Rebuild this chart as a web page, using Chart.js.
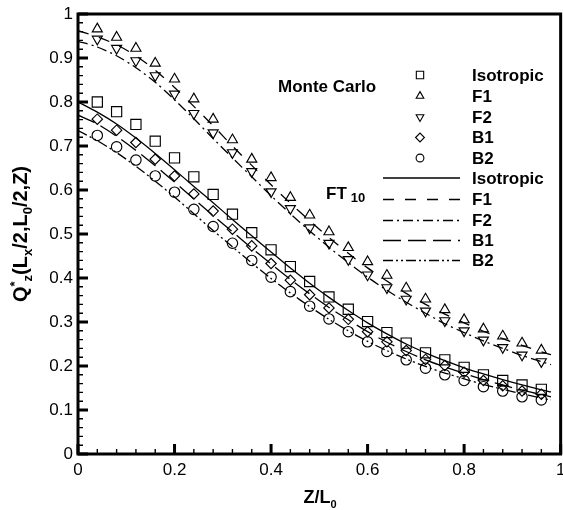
<!DOCTYPE html>
<html><head><meta charset="utf-8">
<script src="https://cdn.jsdelivr.net/npm/chart.js@4/dist/chart.umd.min.js"></script>
<style>
html,body{margin:0;padding:0;overflow:hidden;background:#fff;width:563px;height:510px}
#wrap{position:relative;width:569px;height:510px}
</style>
</head><body><div id="wrap"><canvas id="c" width="569" height="510"></canvas></div>
<script>
const seriesNames = ['Isotropic','F1','F2','B1','B2'];
const zValues = [0.04,0.08,0.12,0.16,0.20,0.24,0.28,0.32,0.36,0.40,0.44,0.48,0.52,0.56,0.60,0.64,0.68,0.72,0.76,0.80,0.84,0.88,0.92,0.96];
const mcIsotropic = [0.800,0.778,0.749,0.711,0.673,0.630,0.590,0.545,0.503,0.464,0.426,0.392,0.357,0.329,0.301,0.276,0.252,0.230,0.214,0.197,0.180,0.167,0.157,0.147];
const mcF1 = [0.966,0.947,0.922,0.888,0.852,0.807,0.761,0.714,0.670,0.628,0.583,0.543,0.505,0.469,0.437,0.406,0.377,0.352,0.328,0.305,0.284,0.268,0.252,0.236];
const mcF2 = [0.943,0.922,0.894,0.860,0.818,0.774,0.730,0.685,0.642,0.596,0.558,0.514,0.479,0.442,0.407,0.378,0.352,0.325,0.303,0.280,0.259,0.242,0.225,0.210];
const mcB1 = [0.761,0.736,0.708,0.670,0.632,0.591,0.552,0.511,0.473,0.433,0.395,0.362,0.332,0.306,0.278,0.255,0.235,0.215,0.201,0.186,0.167,0.155,0.143,0.136];
const mcB2 = [0.724,0.698,0.668,0.632,0.595,0.556,0.517,0.479,0.440,0.402,0.369,0.336,0.307,0.278,0.255,0.233,0.214,0.195,0.180,0.167,0.153,0.143,0.130,0.123];

const ftZ = [0,0.04,0.08,0.12,0.16,0.20,0.24,0.28,0.32,0.36,0.40,0.44,0.48,0.52,0.56,0.60,0.64,0.68,0.72,0.76,0.80,0.84,0.88,0.92,0.96,0.98];
const ftIsotropic = [0.800,0.777,0.750,0.718,0.683,0.646,0.608,0.571,0.533,0.496,0.459,0.423,0.388,0.356,0.326,0.298,0.273,0.250,0.230,0.212,0.196,0.182,0.169,0.157,0.146,0.141];
const ftF1 = [0.962,0.948,0.930,0.905,0.872,0.833,0.790,0.746,0.700,0.656,0.612,0.570,0.530,0.492,0.456,0.423,0.393,0.365,0.340,0.318,0.298,0.279,0.262,0.247,0.232,0.226];
const ftF2 = [0.938,0.925,0.905,0.878,0.845,0.805,0.762,0.717,0.673,0.630,0.587,0.546,0.507,0.470,0.435,0.402,0.372,0.345,0.320,0.296,0.276,0.257,0.240,0.224,0.210,0.203];
const ftB1 = [0.770,0.750,0.722,0.690,0.655,0.618,0.580,0.542,0.505,0.468,0.432,0.397,0.364,0.333,0.305,0.278,0.254,0.233,0.214,0.198,0.183,0.169,0.157,0.145,0.135,0.130];
const ftB2 = [0.735,0.712,0.685,0.654,0.620,0.584,0.546,0.508,0.471,0.434,0.399,0.366,0.335,0.306,0.280,0.256,0.235,0.216,0.199,0.184,0.171,0.158,0.147,0.137,0.127,0.123];

const xTickValues = [0,0.2,0.4,0.6,0.8,1];
const yTickValues = [0,0.1,0.2,0.3,0.4,0.5,0.6,0.7,0.8,0.9,1];

const mcTitle = 'Monte Carlo';
const ftTitle = 'FT';
const ftSub = '10';

const toXY = (xs, ys) => ys.map((v, i) => ({x: xs[i], y: v}));

const markerStyles = [
  {pointStyle:'rect', radius:7.2, rotation:0, legendRadius:5.2},
  {pointStyle:'triangle', radius:5.8, rotation:0, legendRadius:4.4},
  {pointStyle:'triangle', radius:5.8, rotation:180, legendRadius:4.4},
  {pointStyle:'rectRot', radius:5.2, rotation:0, legendRadius:4.4},
  {pointStyle:'circle', radius:5.2, rotation:0, legendRadius:3.9}
];
const dashStyles = [[], [11,11], [10,4,2,4], [18,7], [10,3,2,3,2,3]];

const mcSeries = [mcIsotropic, mcF1, mcF2, mcB1, mcB2];
const ftSeries = [ftIsotropic, ftF1, ftF2, ftB1, ftB2];

const datasets = [];
mcSeries.forEach((s, i) => {
  const m = markerStyles[i];
  datasets.push({
    label: seriesNames[i], group: 'mc', data: toXY(zValues, s),
    showLine: false, pointStyle: m.pointStyle, pointRadius: m.radius, pointRotation: m.rotation,
    pointBorderColor: '#000', pointBackgroundColor: 'rgba(0,0,0,0)', pointBorderWidth: 1.15,
    legendRadius: m.legendRadius
  });
});
ftSeries.forEach((s, i) => {
  datasets.push({
    label: seriesNames[i], group: 'ft', data: toXY(ftZ, s),
    showLine: true, pointRadius: 0, borderColor: '#000', borderWidth: 1.3,
    borderDash: dashStyles[i], tension: 0.3, fill: false
  });
});

const FONT = '"Liberation Sans", Arial, Helvetica, sans-serif';

function drawRich(ctx, parts, x, y, size, subSize) {
  let cx = x;
  for (const p of parts) {
    const sz = p.s === 'n' ? size : subSize;
    ctx.font = 'bold ' + sz + 'px ' + FONT;
    const dy = p.s === 'sub' ? size * 0.25 : (p.s === 'sup' ? -size * 0.42 : 0);
    ctx.fillText(p.t, cx, y + dy);
    cx += ctx.measureText(p.t).width;
  }
  return cx - x;
}
function richWidth(ctx, parts, size, subSize) {
  let w = 0;
  for (const p of parts) {
    ctx.font = 'bold ' + (p.s === 'n' ? size : subSize) + 'px ' + FONT;
    w += ctx.measureText(p.t).width;
  }
  return w;
}

const decorPlugin = {
  id: 'decor',
  afterDatasetsDraw(chart) {
    const {ctx, chartArea: a, scales: {x, y}} = chart;
    ctx.save();
    ctx.strokeStyle = '#000';
    ctx.fillStyle = '#000';
    // minor ticks
    ctx.lineWidth = 1.4;
    ctx.beginPath();
    for (let i = 1; i < 25; i++) {
      if (i % 5 === 0) continue;
      const px = x.getPixelForValue(i * 0.04);
      ctx.moveTo(px, a.bottom); ctx.lineTo(px, a.bottom - 5);
    }
    for (let i = 1; i < 50; i++) {
      if (i % 5 === 0) continue;
      const py = y.getPixelForValue(i * 0.02);
      ctx.moveTo(a.left, py); ctx.lineTo(a.left + 5, py);
    }
    ctx.stroke();
    // major ticks
    ctx.lineWidth = 3;
    ctx.beginPath();
    xTickValues.forEach(v => { const px = x.getPixelForValue(v); ctx.moveTo(px, a.bottom); ctx.lineTo(px, a.bottom - 10); });
    yTickValues.forEach(v => { const py = y.getPixelForValue(v); ctx.moveTo(a.left, py); ctx.lineTo(a.left + 10, py); });
    ctx.stroke();
    // frame
    ctx.lineWidth = 3;
    ctx.strokeRect(a.left, a.top, a.right - a.left, a.bottom - a.top);

    // x title
    ctx.textBaseline = 'alphabetic';
    ctx.textAlign = 'left';
    const xParts = [{t:'Z/L', s:'n'}, {t:'0', s:'sub'}];
    const xw = richWidth(ctx, xParts, 18, 11);
    drawRich(ctx, xParts, 320 - xw / 2, 503, 18, 11);

    // y title
    const yParts = [{t:'Q', s:'n'}, {t:'*', s:'sup'}, {t:'z', s:'sub'}, {t:'(L', s:'n'}, {t:'x', s:'sub'},
      {t:'/2,L', s:'n'}, {t:'0', s:'sub'}, {t:'/2,Z)', s:'n'}];
    const yw = richWidth(ctx, yParts, 20, 13);
    ctx.save();
    ctx.translate(27, (a.top + a.bottom) / 2 + yw / 2);
    ctx.rotate(-Math.PI / 2);
    drawRich(ctx, yParts, 0, 0, 20, 13);
    ctx.restore();

    // legend
    ctx.textBaseline = 'middle';
    ctx.font = 'bold 17px ' + FONT;
    ctx.fillText(mcTitle, 278, 87);
    const mcRows = [75, 96, 117, 137.5, 158];
    const ftRows = [178, 199.5, 220.5, 240.5, 260.5];
    let mi = 0, fi = 0;
    chart.data.datasets.forEach(ds => {
      if (ds.group === 'mc') {
        const yy = mcRows[mi++];
        ctx.lineWidth = 1.1;
        ctx.setLineDash([]);
        ctx.fillStyle = 'rgba(0,0,0,0)';
        Chart.helpers.drawPoint(ctx, {pointStyle: ds.pointStyle, rotation: ds.pointRotation, radius: ds.legendRadius, borderWidth: 1.1}, 420, yy);
        ctx.fillStyle = '#000';
        ctx.font = 'bold 17px ' + FONT;
        ctx.fillText(ds.label, 472, yy + 1);
      } else {
        const yy = ftRows[fi++];
        ctx.lineWidth = 1.3;
        ctx.setLineDash(ds.borderDash);
        ctx.beginPath(); ctx.moveTo(383, yy); ctx.lineTo(460, yy); ctx.stroke();
        ctx.setLineDash([]);
        ctx.font = 'bold 17px ' + FONT;
        ctx.fillText(ds.label, 472, yy + 1);
      }
    });
    ctx.textBaseline = 'alphabetic';
    ctx.font = 'bold 17px ' + FONT;
    ctx.fillText(ftTitle, 326, 199);
    const ftw = ctx.measureText(ftTitle).width;
    ctx.font = 'bold 13px ' + FONT;
    ctx.fillText(ftSub, 326 + ftw + 4, 202);
    ctx.restore();
  }
};

new Chart(document.getElementById('c'), {
  type: 'scatter',
  data: { datasets },
  options: {
    responsive: false,
    animation: false,
    events: [],
    layout: { padding: { top: 14, right: 6, left: 0, bottom: 0 } },
    plugins: { legend: { display: false }, tooltip: { enabled: false } },
    scales: {
      x: {
        type: 'linear', min: 0, max: 1,
        afterBuildTicks: s => { s.ticks = xTickValues.map(v => ({value: v})); },
        afterFit: s => { s.height = 56; s.paddingLeft = 0; s.paddingRight = 0; },
        grid: { display: false, drawTicks: false },
        border: { display: false },
        ticks: { padding: 6, color: '#000', font: { family: FONT, size: 17 }, maxRotation: 0, autoSkip: false,
          callback: v => String(Math.round(v * 10) / 10) }
      },
      y: {
        type: 'linear', min: 0, max: 1,
        afterBuildTicks: s => { s.ticks = yTickValues.map(v => ({value: v})); },
        afterFit: s => { s.width = 78; s.paddingTop = 0; s.paddingBottom = 0; },
        grid: { display: false, drawTicks: false },
        border: { display: false },
        ticks: { padding: 5, color: '#000', font: { family: FONT, size: 17 }, autoSkip: false,
          callback: v => String(Math.round(v * 10) / 10) }
      }
    }
  },
  plugins: [decorPlugin]
});
</script>
</body></html>
